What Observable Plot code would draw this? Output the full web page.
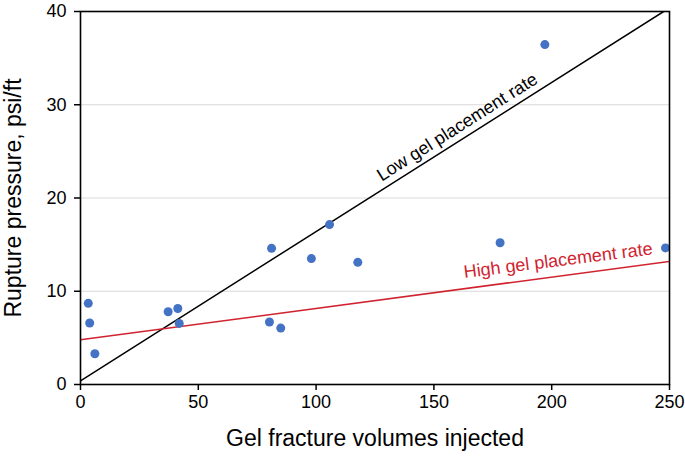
<!DOCTYPE html>
<html>
<head>
<meta charset="utf-8">
<script src="https://cdn.jsdelivr.net/npm/d3@7"></script>
<script src="https://cdn.jsdelivr.net/npm/@observablehq/plot@0.6"></script>
<style>
  html, body { margin: 0; padding: 0; background: #fff; }
</style>
</head>
<body>
<div id="chart"></div>
<script>
// Observed points
const volumes  = [3.3, 3.9, 6.1, 37.2, 41.3, 41.9, 80.2, 85.0, 81.1, 98.0, 105.7, 117.7, 178.1, 197.1, 248.3];
const pressure = [8.7, 6.6, 3.3, 7.8, 8.15, 6.55, 6.7, 6.05, 14.6, 13.5, 17.15, 13.1, 15.2, 36.45, 14.65];

// Trend lines (endpoints)
const lowRateX  = [0, 247.5];
const lowRateY  = [0.4, 40];
const highRateX = [0, 250];
const highRateY = [4.8, 13.2];

// Ticks
const xTicks = [0, 50, 100, 150, 200, 250];
const yTicks = [0, 10, 20, 30, 40];
const gridTicks = [10, 20, 30];

// Labels
const lowLabel = "Low gel placement rate";
const highLabel = "High gel placement rate";
const xTitle = "Gel fracture volumes injected";
const yTitle = "Rupture pressure, psi/ft";

const points = volumes.map((v, i) => ({x: v, y: pressure[i]}));
const low = lowRateX.map((v, i) => ({x: v, y: lowRateY[i]}));
const high = highRateX.map((v, i) => ({x: v, y: highRateY[i]}));

const red = "#d0232f";
const blue = "#4472c4";

const chart = Plot.plot({
  width: 685,
  height: 461,
  marginLeft: 80,
  marginRight: 16,
  marginTop: 11,
  marginBottom: 77,
  style: {fontFamily: "'Liberation Sans', Arial, sans-serif", background: "#fff", color: "#000"},
  x: {domain: [0, 250]},
  y: {domain: [0, 40]},
  marks: [
    Plot.gridY(gridTicks, {stroke: "#d9d9d9", strokeOpacity: 1, strokeWidth: 1}),
    Plot.line(low, {x: "x", y: "y", stroke: "#000", strokeWidth: 1.5, clip: true}),
    Plot.line(high, {x: "x", y: "y", stroke: red, strokeWidth: 1.5, clip: true}),
    Plot.dot(points, {x: "x", y: "y", r: 4.5, fill: blue, stroke: "none"}),
    Plot.frame({stroke: "#000", strokeWidth: 1.6}),
    Plot.axisX({ticks: xTicks, tickSize: 6, tickPadding: 5, fontSize: 18, label: null, stroke: "#000", strokeWidth: 1.5, fill: "#000"}),
    Plot.axisY({ticks: yTicks, tickSize: 6, tickPadding: 8, fontSize: 18, label: null, stroke: "#000", strokeWidth: 1.5, fill: "#000"}),
    Plot.text([lowLabel], {x: 159.9, y: 27.6, rotate: -32.3, fontSize: 18, fill: "#000", textAnchor: "middle"}),
    Plot.text([highLabel], {x: 202.7, y: 13.3, rotate: -7.2, fontSize: 18, fill: red, textAnchor: "middle"}),
    Plot.text([xTitle], {frameAnchor: "bottom", dy: 61.5, fontSize: 23, fill: "#000", textAnchor: "middle"}),
    Plot.text([yTitle], {frameAnchor: "left", rotate: -90, dx: -67, fontSize: 23, fill: "#000", textAnchor: "middle"})
  ]
});
document.getElementById("chart").appendChild(chart);
</script>
</body>
</html>
